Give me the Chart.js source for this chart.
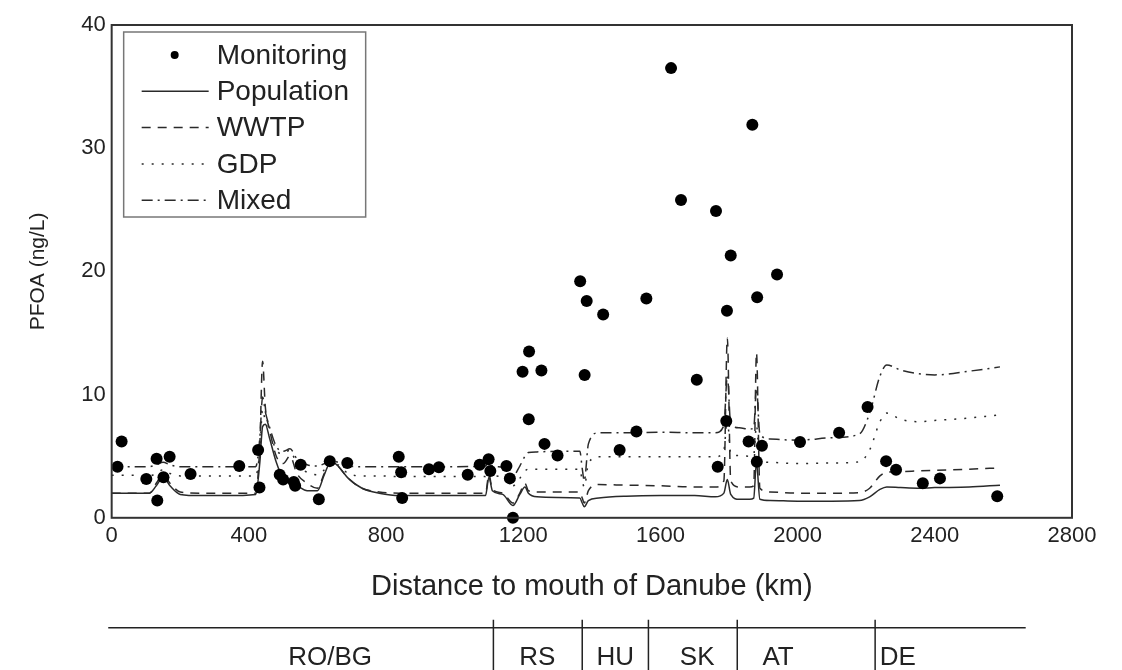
<!DOCTYPE html>
<html>
<head>
<meta charset="utf-8">
<title>PFOA along the Danube</title>
<script src="https://cdn.jsdelivr.net/npm/chart.js@4.4.1/dist/chart.umd.min.js"></script>
<style>
  body { margin: 0; background: #fff; }
  #wrap { width: 1122px; height: 670px; }
</style>
</head>
<body>
<div id="wrap"><canvas id="pfoaChart" width="1122" height="670"></canvas></div>
<script>
// Monitoring samples (km from mouth, ng/L)
const monitoringKm = [17, 29, 101, 131, 133, 151, 169, 230, 372, 427, 431, 490, 500, 531, 535, 551, 604, 636, 687,
  837, 844, 847, 925, 954, 1038, 1073, 1099, 1104, 1151, 1161, 1170, 1198, 1216, 1217, 1253, 1262, 1300,
  1366, 1379, 1385, 1433, 1481, 1530, 1559, 1631, 1660, 1706, 1762, 1767, 1792, 1794, 1805, 1857, 1868,
  1881, 1882, 1896, 1940, 2007, 2121, 2204, 2258, 2287, 2365, 2415, 2582];
const monitoringPfoa = [4.15, 6.2, 3.15, 4.8, 1.4, 3.3, 4.95, 3.55, 4.2, 5.5, 2.45, 3.5, 3.1, 2.9, 2.6, 4.3, 1.5, 4.6, 4.45,
  4.95, 3.7, 1.6, 3.95, 4.1, 3.5, 4.3, 4.75, 3.8, 4.2, 3.2, 0.0, 11.85, 8.0, 13.5, 11.95, 6.0, 5.05,
  19.2, 11.6, 17.6, 16.5, 5.5, 7.0, 17.8, 36.5, 25.8, 11.2, 24.9, 4.15, 7.85, 16.8, 21.3, 6.2, 31.9,
  4.55, 17.9, 5.85, 19.75, 6.15, 6.9, 9.0, 4.6, 3.9, 2.8, 3.2, 1.75];

// Model profiles, all on the same km grid
const modelKm = [0, 60, 110, 130, 150, 170, 200, 260, 330, 420, 432, 440, 448, 460, 480, 500, 520, 540, 570, 600,
  620, 640, 660, 690, 730, 780, 840, 900, 1000, 1090, 1100, 1110, 1140, 1170, 1190, 1205, 1215, 1240, 1300,
  1365, 1372, 1378, 1390, 1420, 1500, 1600, 1700, 1760, 1785, 1795, 1805, 1830, 1860, 1872, 1880, 1890,
  1920, 2000, 2100, 2180, 2210, 2240, 2260, 2300, 2350, 2400, 2500, 2590];
const populationPfoa = [2.0, 2.0, 2.0, 2.6, 3.3, 2.6, 1.9, 1.8, 1.8, 1.9, 4.5, 7.4, 7.6, 6.5, 4.5, 3.2, 2.8, 2.6, 2.2, 2.2,
  3.5, 4.6, 4.2, 3.2, 2.4, 2.0, 1.8, 1.8, 1.8, 1.8, 3.3, 2.2, 1.9, 1.0, 1.9, 2.5, 2.0, 1.7, 1.65,
  1.6, 1.2, 0.9, 1.4, 1.6, 1.75, 1.8, 1.8, 1.7, 2.0, 3.1, 1.9, 1.5, 1.5, 1.6, 4.5, 1.5,
  1.4, 1.35, 1.35, 1.4, 1.7, 2.3, 2.5, 2.45, 2.4, 2.45, 2.5, 2.65];
const wwtpPfoa = [2.0, 2.0, 2.0, 2.8, 3.5, 2.8, 2.1, 2.0, 2.0, 2.0, 6.0, 12.7, 9.0, 7.2, 5.0, 4.4, 5.0, 3.6, 2.8, 2.4,
  3.6, 4.6, 4.2, 3.2, 2.4, 2.1, 2.0, 2.0, 2.0, 2.0, 3.5, 2.3, 2.0, 1.2, 2.0, 2.8, 2.2, 2.1, 2.1,
  2.1, 1.6, 1.2, 2.2, 2.7, 2.65, 2.6, 2.5, 2.5, 3.0, 14.6, 3.0, 2.5, 2.5, 2.6, 13.4, 2.4,
  2.1, 2.0, 2.0, 2.05, 2.4, 3.4, 3.7, 3.75, 3.8, 3.85, 3.95, 4.05];
const gdpPfoa = [3.45, 3.45, 3.4, 3.6, 3.9, 3.6, 3.4, 3.4, 3.4, 3.4, 5.5, 8.8, 7.8, 7.0, 5.5, 5.2, 5.5, 4.3, 3.7, 3.5,
  3.9, 4.6, 4.3, 3.6, 3.4, 3.4, 3.35, 3.35, 3.35, 3.35, 3.9, 3.5, 3.3, 2.6, 3.2, 3.8, 3.95, 3.95, 3.95,
  3.95, 3.0, 2.5, 4.4, 4.95, 4.95, 4.95, 4.95, 4.95, 5.5, 8.0, 5.2, 5.05, 5.0, 5.1, 7.5, 4.6,
  4.5, 4.4, 4.45, 4.55, 5.5, 7.8, 8.5, 8.0, 7.8, 7.9, 8.1, 8.35];
const mixedPfoa = [4.15, 4.15, 4.15, 4.3, 4.5, 4.3, 4.15, 4.15, 4.15, 4.15, 6.5, 9.8, 8.6, 7.4, 5.8, 5.4, 5.6, 4.8, 4.3, 4.2,
  4.4, 4.7, 4.5, 4.2, 4.15, 4.15, 4.15, 4.15, 4.15, 4.2, 4.6, 4.2, 4.1, 3.4, 4.2, 5.0, 5.3, 5.35, 5.4,
  5.4, 4.0, 3.0, 6.0, 6.9, 6.9, 6.95, 6.9, 6.9, 7.5, 11.5, 7.6, 7.3, 7.2, 7.3, 10.5, 6.8,
  6.4, 6.3, 6.5, 6.8, 8.5, 11.5, 12.4, 12.0, 11.7, 11.6, 11.9, 12.25];

// Country strip under the axis
const countryNames = ['RO/BG', 'RS', 'HU', 'SK', 'AT', 'DE'];
const countryLabelKm = [637, 1241, 1468, 1707, 1943, 2292];
const countryBorderKm = [1113, 1372, 1565, 1824, 2226];
const stripKm = [-10, 2665];

const xTicks = [0, 400, 800, 1200, 1600, 2000, 2400, 2800];
const yTicks = [0, 10, 20, 30, 40];

const FONT = "'Liberation Sans', Arial, sans-serif";
const INK = '#222';

function toPoints(xs, ys) {
  return xs.map((x, i) => ({ x: x, y: ys[i] }));
}

function modelLine(label, ys, dash) {
  return {
    label: label,
    data: toPoints(modelKm, ys),
    showLine: true,
    borderColor: '#2a2a2a',
    borderWidth: 1.5,
    borderDash: dash,
    pointRadius: 0,
    cubicInterpolationMode: 'monotone',
    fill: false
  };
}

// box around the plot area
const frame = {
  id: 'frame',
  afterDraw(chart) {
    const a = chart.chartArea, ctx = chart.ctx;
    ctx.save();
    ctx.strokeStyle = '#333';
    ctx.lineWidth = 2;
    ctx.strokeRect(a.left, a.top, a.right - a.left, a.bottom - a.top);
    ctx.restore();
  }
};

// legend box in the upper-left corner
const boxLegend = {
  id: 'boxLegend',
  afterDatasetsDraw(chart) {
    const a = chart.chartArea, ctx = chart.ctx;
    const x0 = a.left + 12, y0 = a.top + 7, w = 242, h = 185;
    ctx.save();
    ctx.fillStyle = '#fff';
    ctx.fillRect(x0, y0, w, h);
    ctx.strokeStyle = '#777';
    ctx.lineWidth = 1.5;
    ctx.strokeRect(x0, y0, w, h);
    ctx.font = '28px ' + FONT;
    ctx.textBaseline = 'middle';
    chart.data.datasets.forEach((ds, i) => {
      const y = a.top + 30 + i * 36.3;
      if (ds.showLine) {
        ctx.strokeStyle = ds.borderColor;
        ctx.lineWidth = ds.borderWidth;
        ctx.setLineDash(ds.borderDash || []);
        ctx.beginPath();
        ctx.moveTo(a.left + 30, y);
        ctx.lineTo(a.left + 97, y);
        ctx.stroke();
        ctx.setLineDash([]);
      } else {
        ctx.fillStyle = '#000';
        ctx.beginPath();
        ctx.arc(a.left + 63, y, 4, 0, Math.PI * 2);
        ctx.fill();
      }
      ctx.fillStyle = INK;
      ctx.fillText(ds.label, a.left + 105, y + 1);
    });
    ctx.restore();
  }
};

// country bands along the river, placed with the x scale
const countryStrip = {
  id: 'countryStrip',
  afterDraw(chart) {
    const xs = chart.scales.x, a = chart.chartArea, ctx = chart.ctx;
    const lineY = a.bottom + 110;
    ctx.save();
    ctx.strokeStyle = '#222';
    ctx.lineWidth = 1.5;
    ctx.beginPath();
    ctx.moveTo(xs.getPixelForValue(stripKm[0]), lineY);
    ctx.lineTo(xs.getPixelForValue(stripKm[1]), lineY);
    countryBorderKm.forEach(km => {
      const px = xs.getPixelForValue(km);
      ctx.moveTo(px, lineY - 8);
      ctx.lineTo(px, chart.height);
    });
    ctx.stroke();
    ctx.fillStyle = INK;
    ctx.font = '26px ' + FONT;
    ctx.textAlign = 'center';
    ctx.textBaseline = 'middle';
    countryNames.forEach((name, i) => {
      ctx.fillText(name, xs.getPixelForValue(countryLabelKm[i]), a.bottom + 140);
    });
    ctx.restore();
  }
};

document.addEventListener('DOMContentLoaded', function() {
  const ctx = document.getElementById('pfoaChart').getContext('2d');
  const pfoaChart = new Chart(ctx, {
    type: 'scatter',
    data: {
      datasets: [
        {
          label: 'Monitoring',
          data: toPoints(monitoringKm, monitoringPfoa),
          backgroundColor: '#000',
          borderColor: '#000',
          pointRadius: 6,
          pointBorderWidth: 0,
          clip: false
        },
        modelLine('Population', populationPfoa, []),
        modelLine('WWTP', wwtpPfoa, [9, 7]),
        modelLine('GDP', gdpPfoa, [2, 8]),
        modelLine('Mixed', mixedPfoa, [11, 5, 2, 5])
      ]
    },
    options: {
      responsive: false,
      animation: false,
      devicePixelRatio: 1,
      layout: {
        padding: { left: 18, right: 50, top: 25, bottom: 62 }
      },
      plugins: {
        legend: { display: false },
        tooltip: { enabled: false }
      },
      scales: {
        x: {
          type: 'linear',
          min: 0,
          max: 2800,
          afterBuildTicks: axis => { axis.ticks = xTicks.map(v => ({ value: v })); },
          grid: { display: false, drawTicks: false },
          border: { display: false },
          ticks: {
            padding: 5,
            color: INK,
            font: { family: FONT, size: 22 },
            maxRotation: 0,
            callback: v => String(v)
          },
          title: {
            display: true,
            text: 'Distance to mouth of Danube (km)',
            color: INK,
            font: { family: FONT, size: 29 },
            padding: { top: 15, bottom: 4 }
          }
        },
        y: {
          type: 'linear',
          min: 0,
          max: 40,
          afterBuildTicks: axis => { axis.ticks = yTicks.map(v => ({ value: v })); },
          grid: { display: false, drawTicks: false },
          border: { display: false },
          ticks: {
            padding: 6,
            color: INK,
            font: { family: FONT, size: 22 },
            callback: v => String(v)
          },
          title: {
            display: true,
            text: 'PFOA (ng/L)',
            color: INK,
            font: { family: FONT, size: 21 },
            padding: { top: 8, bottom: 24 }
          }
        }
      }
    },
    plugins: [frame, boxLegend, countryStrip]
  });
});
</script>
</body>
</html>
